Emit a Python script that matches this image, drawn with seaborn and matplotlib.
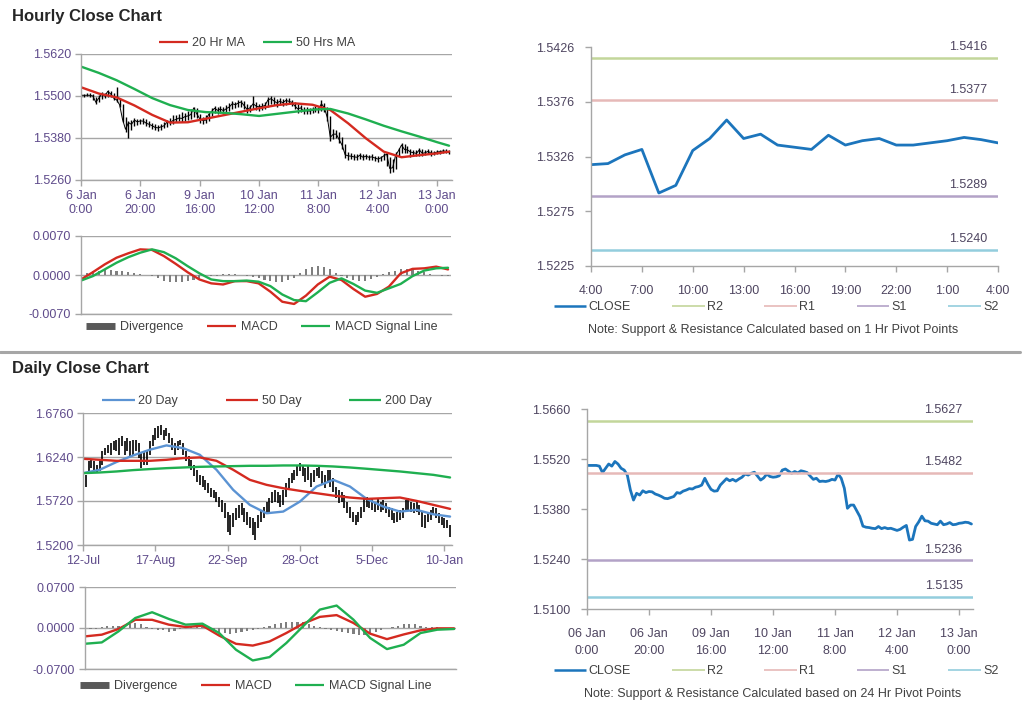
import numpy as np
import matplotlib
matplotlib.use("Agg")
import matplotlib.pyplot as plt
import seaborn as sns
from matplotlib.lines import Line2D
from matplotlib.ticker import FuncFormatter

sns.set_style("white")
plt.rcParams["font.family"] = ["Liberation Sans", "DejaVu Sans"]

# ------------------------------------------------------------------
# data
# ------------------------------------------------------------------
# hourly closes, 6 Jan 0:00 -> 13 Jan ~4:00 (trading hours)
hourly_close = [
    1.5502, 1.5502, 1.5502, 1.5502, 1.5500, 1.5482, 1.5494, 1.5506, 1.5500, 1.5513,
    1.5506, 1.5494, 1.5489, 1.5475, 1.5433, 1.5405, 1.5424, 1.5419, 1.5431, 1.5426,
    1.5429, 1.5428, 1.5422, 1.5419, 1.5415, 1.5410, 1.5409, 1.5412, 1.5415, 1.5426,
    1.5424, 1.5430, 1.5433, 1.5437, 1.5436, 1.5441, 1.5443, 1.5447, 1.5466, 1.5449,
    1.5435, 1.5430, 1.5431, 1.5447, 1.5456, 1.5465, 1.5459, 1.5463, 1.5458, 1.5464,
    1.5469, 1.5478, 1.5475, 1.5480, 1.5483, 1.5472, 1.5461, 1.5467, 1.5478, 1.5471,
    1.5469, 1.5470, 1.5473, 1.5489, 1.5492, 1.5486, 1.5480, 1.5485, 1.5481, 1.5487,
    1.5485, 1.5482, 1.5472, 1.5463, 1.5466, 1.5457, 1.5458, 1.5457, 1.5459, 1.5463,
    1.5461, 1.5478, 1.5466, 1.5438, 1.5382, 1.5391, 1.5391, 1.5375, 1.5359, 1.5332,
    1.5329, 1.5328, 1.5326, 1.5325, 1.5331, 1.5325, 1.5328, 1.5325, 1.5326, 1.5323,
    1.5320, 1.5323, 1.5329, 1.5334, 1.5293, 1.5295, 1.5331, 1.5344, 1.5360, 1.5347,
    1.5346, 1.5340, 1.5338, 1.5336, 1.5346, 1.5336, 1.5338, 1.5342, 1.5336, 1.5337,
    1.5340, 1.5341, 1.5343, 1.5342, 1.5338,
]
hourly_high = [
    1.5507, 1.5506, 1.5508, 1.5510, 1.5505, 1.5496, 1.5503, 1.5512, 1.5510, 1.5518,
    1.5515, 1.5508, 1.5526, 1.5492, 1.5478, 1.5440, 1.5430, 1.5432, 1.5436, 1.5434,
    1.5435, 1.5436, 1.5433, 1.5428, 1.5424, 1.5419, 1.5416, 1.5420, 1.5426, 1.5432,
    1.5437, 1.5446, 1.5447, 1.5450, 1.5455, 1.5452, 1.5458, 1.5462, 1.5470, 1.5466,
    1.5450, 1.5441, 1.5445, 1.5452, 1.5466, 1.5472, 1.5470, 1.5471, 1.5469, 1.5474,
    1.5480, 1.5486, 1.5483, 1.5488, 1.5490, 1.5486, 1.5476, 1.5474, 1.5500, 1.5484,
    1.5478, 1.5480, 1.5482, 1.5496, 1.5500, 1.5497, 1.5492, 1.5494, 1.5492, 1.5495,
    1.5493, 1.5490, 1.5484, 1.5476, 1.5474, 1.5470, 1.5468, 1.5466, 1.5469, 1.5472,
    1.5470, 1.5489, 1.5480, 1.5470, 1.5442, 1.5405, 1.5402, 1.5396, 1.5382, 1.5362,
    1.5340, 1.5336, 1.5334, 1.5333, 1.5337, 1.5334, 1.5335, 1.5332, 1.5333, 1.5330,
    1.5328, 1.5330, 1.5336, 1.5340, 1.5326, 1.5320, 1.5340, 1.5352, 1.5366, 1.5362,
    1.5356, 1.5350, 1.5347, 1.5345, 1.5352, 1.5348, 1.5346, 1.5348, 1.5345, 1.5344,
    1.5346, 1.5347, 1.5348, 1.5348, 1.5345,
]
hourly_low = [
    1.5497, 1.5498, 1.5499, 1.5498, 1.5488, 1.5478, 1.5484, 1.5492, 1.5495, 1.5498,
    1.5496, 1.5489, 1.5484, 1.5468, 1.5425, 1.5396, 1.5380, 1.5402, 1.5414, 1.5418,
    1.5420, 1.5421, 1.5415, 1.5412, 1.5406, 1.5402, 1.5401, 1.5404, 1.5409, 1.5412,
    1.5418, 1.5421, 1.5425, 1.5428, 1.5427, 1.5430, 1.5432, 1.5435, 1.5440, 1.5436,
    1.5424, 1.5421, 1.5423, 1.5429, 1.5442, 1.5452, 1.5450, 1.5452, 1.5449, 1.5453,
    1.5458, 1.5462, 1.5465, 1.5468, 1.5470, 1.5462, 1.5452, 1.5455, 1.5462, 1.5460,
    1.5458, 1.5459, 1.5462, 1.5468, 1.5478, 1.5474, 1.5470, 1.5473, 1.5471, 1.5474,
    1.5476, 1.5472, 1.5462, 1.5452, 1.5455, 1.5450, 1.5450, 1.5449, 1.5451, 1.5453,
    1.5452, 1.5458, 1.5455, 1.5430, 1.5372, 1.5376, 1.5380, 1.5366, 1.5348, 1.5322,
    1.5318, 1.5320, 1.5318, 1.5317, 1.5320, 1.5318, 1.5320, 1.5317, 1.5318, 1.5315,
    1.5312, 1.5314, 1.5318, 1.5300, 1.5280, 1.5283, 1.5292, 1.5328, 1.5338, 1.5338,
    1.5336, 1.5325, 1.5330, 1.5328, 1.5330, 1.5328, 1.5331, 1.5334, 1.5330, 1.5331,
    1.5333, 1.5334, 1.5336, 1.5336, 1.5333,
]
hourly_tick_labels = ["6 Jan\n0:00", "6 Jan\n20:00", "9 Jan\n16:00", "10 Jan\n12:00",
                      "11 Jan\n8:00", "12 Jan\n4:00", "13 Jan\n0:00"]
hourly_tick_labels_br = ["06 Jan\n0:00", "06 Jan\n20:00", "09 Jan\n16:00", "10 Jan\n12:00",
                         "11 Jan\n8:00", "12 Jan\n4:00", "13 Jan\n0:00"]

ma_hours = [0, 6, 12, 18, 24, 30, 36, 42, 48, 54, 60, 66, 72, 78, 84, 90, 96, 102, 108, 114, 120, 124]
hourly_ma20 = [1.5525, 1.5507, 1.5496, 1.5473, 1.5446, 1.5424, 1.5425, 1.5435, 1.5445, 1.5455, 1.5465,
               1.5474, 1.5479, 1.5475, 1.5460, 1.5422, 1.5379, 1.5341, 1.5325, 1.5331, 1.5336, 1.5341]
hourly_ma50 = [1.5584, 1.5566, 1.5545, 1.5520, 1.5494, 1.5474, 1.5460, 1.5454, 1.5452, 1.5448, 1.5443,
               1.5449, 1.5455, 1.5461, 1.5463, 1.5450, 1.5433, 1.5415, 1.5399, 1.5384, 1.5368, 1.5358]

macd_hours = [0, 4, 8, 12, 16, 20, 24, 28, 32, 36, 40, 44, 48, 52, 56, 60,
              64, 68, 72, 76, 80, 84, 88, 92, 96, 100, 104, 108, 112, 116, 120, 124]
hourly_macd = [-0.0008, 0.0005, 0.0019, 0.0031, 0.0039, 0.0046, 0.0045, 0.0034, 0.0020, 0.0005,
               -0.0008, -0.0015, -0.0017, -0.0011, -0.0011, -0.0015, -0.0030, -0.0048, -0.0052, -0.0037,
               -0.0017, -0.0003, -0.0009, -0.0025, -0.0039, -0.0034, -0.0021, 0.0003, 0.0011, 0.0012,
               0.0015, 0.0010]
hourly_signal = [-0.0010, -0.0002, 0.0010, 0.0022, 0.0032, 0.0040, 0.0046, 0.0041, 0.0030, 0.0016,
                 0.0003, -0.0008, -0.0011, -0.0011, -0.0010, -0.0012, -0.0020, -0.0035, -0.0045, -0.0047,
                 -0.0031, -0.0014, -0.0006, -0.0016, -0.0028, -0.0032, -0.0024, -0.0016, -0.0002, 0.0008,
                 0.0012, 0.0013]
# divergence, every second hour
hourly_divergence = [
    0.0002, 0.0004, 0.0007, 0.0008, 0.0009, 0.0009, 0.0008, 0.0007, 0.0006, 0.0004,
    0.0002, 0.0000, -0.0002, -0.0006, -0.0010, -0.0012, -0.0013, -0.0012, -0.0011, -0.0009,
    -0.0007, -0.0004, -0.0002, -0.0001, 0.0001, 0.0002, 0.0001, 0.0000, -0.0001, -0.0003,
    -0.0006, -0.0009, -0.0011, -0.0013, -0.0012, -0.0009, -0.0005, 0.0004, 0.0010, 0.0014,
    0.0016, 0.0015, 0.0011, 0.0004, -0.0002, -0.0006, -0.0009, -0.0011, -0.0010, -0.0007,
    -0.0003, 0.0002, 0.0005, 0.0008, 0.0010, 0.0011, 0.0010, 0.0008, 0.0005, 0.0002,
    0.0000, -0.0001, -0.0001,
]

# last 25 hours (4:00 -> 4:00) with 1 Hr pivot levels
last_day_labels = ["4:00", "7:00", "10:00", "13:00", "16:00", "19:00", "22:00", "1:00", "4:00"]
last_day_close = [1.5318, 1.5319, 1.5327, 1.5332, 1.5292, 1.5299, 1.5331, 1.5342, 1.5359, 1.5342,
                  1.5346, 1.5336, 1.5334, 1.5332, 1.5345, 1.5336, 1.5340, 1.5342, 1.5336, 1.5336,
                  1.5338, 1.5340, 1.5343, 1.5341, 1.5338]
hourly_levels = [1.5416, 1.5377, 1.5289, 1.5240]   # R2, R1, S1, S2
daily_levels = [1.5627, 1.5482, 1.5236, 1.5135]
level_names = ["R2", "R1", "S1", "S2"]
last_day_ticks = ["1.5225", "1.5275", "1.5326", "1.5376", "1.5426"]

# daily bars 12-Jul -> 12-Jan
daily_tick_labels = ["12-Jul", "17-Aug", "22-Sep", "28-Oct", "5-Dec", "10-Jan"]
daily_high = [
    1.5931, 1.6029, 1.6187, 1.6207, 1.6187, 1.6148, 1.6187, 1.6306, 1.6345, 1.6385,
    1.6405, 1.6424, 1.6444, 1.6464, 1.6484, 1.6424, 1.6464, 1.6424, 1.6444, 1.6444,
    1.6405, 1.6286, 1.6306, 1.6326, 1.6424, 1.6503, 1.6582, 1.6602, 1.6614, 1.6563,
    1.6582, 1.6523, 1.6464, 1.6405, 1.6424, 1.6444, 1.6405, 1.6306, 1.6247, 1.6207,
    1.6148, 1.6089, 1.6029, 1.6010, 1.5970, 1.5931, 1.5871, 1.5852, 1.5832, 1.5773,
    1.5733, 1.5694, 1.5595, 1.5556, 1.5575, 1.5635, 1.5674, 1.5694, 1.5635, 1.5595,
    1.5536, 1.5516, 1.5477, 1.5556, 1.5615, 1.5654, 1.5713, 1.5753, 1.5832, 1.5852,
    1.5832, 1.5792, 1.5852, 1.5931, 1.5990, 1.6049, 1.6089, 1.6148, 1.6168, 1.6148,
    1.6108, 1.6128, 1.6049, 1.6089, 1.6108, 1.6128, 1.6069, 1.6029, 1.6089, 1.6089,
    1.5990, 1.5891, 1.5852, 1.5832, 1.5792, 1.5713, 1.5654, 1.5595, 1.5556, 1.5595,
    1.5654, 1.5753, 1.5773, 1.5753, 1.5753, 1.5713, 1.5753, 1.5713, 1.5733, 1.5694,
    1.5654, 1.5635, 1.5575, 1.5595, 1.5615, 1.5635, 1.5733, 1.5753, 1.5713, 1.5694,
    1.5713, 1.5674, 1.5595, 1.5556, 1.5595, 1.5615, 1.5654, 1.5635, 1.5575, 1.5536,
    1.5516, 1.5496, 1.5437,
]
daily_low = [
    1.5773, 1.5891, 1.6069, 1.6108, 1.6089, 1.6049, 1.6069, 1.6148, 1.6266, 1.6286,
    1.6266, 1.6326, 1.6306, 1.6266, 1.6365, 1.6266, 1.6306, 1.6247, 1.6266, 1.6306,
    1.6227, 1.6108, 1.6148, 1.6148, 1.6266, 1.6365, 1.6444, 1.6464, 1.6503, 1.6444,
    1.6484, 1.6405, 1.6326, 1.6266, 1.6326, 1.6385, 1.6266, 1.6187, 1.6128, 1.6089,
    1.6010, 1.5950, 1.5911, 1.5891, 1.5852, 1.5812, 1.5773, 1.5753, 1.5713, 1.5654,
    1.5595, 1.5516, 1.5358, 1.5319, 1.5417, 1.5496, 1.5516, 1.5556, 1.5477, 1.5437,
    1.5398, 1.5319, 1.5259, 1.5398, 1.5477, 1.5516, 1.5575, 1.5595, 1.5694, 1.5713,
    1.5694, 1.5654, 1.5674, 1.5773, 1.5871, 1.5931, 1.5970, 1.6010, 1.6069, 1.6010,
    1.5950, 1.5970, 1.5891, 1.5950, 1.6010, 1.5990, 1.5911, 1.5871, 1.5931, 1.5891,
    1.5832, 1.5753, 1.5694, 1.5713, 1.5635, 1.5575, 1.5516, 1.5477, 1.5437, 1.5477,
    1.5516, 1.5595, 1.5654, 1.5635, 1.5615, 1.5595, 1.5615, 1.5595, 1.5615, 1.5575,
    1.5536, 1.5496, 1.5457, 1.5477, 1.5496, 1.5516, 1.5595, 1.5615, 1.5595, 1.5575,
    1.5595, 1.5556, 1.5417, 1.5398, 1.5477, 1.5496, 1.5556, 1.5516, 1.5457, 1.5437,
    1.5398, 1.5398, 1.5299,
]
ma_days = [0, 6, 12, 18, 24, 30, 36, 42, 48, 54, 60, 66, 72, 78, 84, 90, 96, 102, 108, 114, 120, 126, 132]
daily_ma20 = [1.6049, 1.6089, 1.6180, 1.6258, 1.6326, 1.6377, 1.6345, 1.6266, 1.6089, 1.5852, 1.5674, 1.5575,
              1.5595, 1.5713, 1.5891, 1.5970, 1.5891, 1.5745, 1.5654, 1.5595, 1.5615, 1.5563, 1.5536]
daily_ma50 = [1.6219, 1.6207, 1.6195, 1.6195, 1.6195, 1.6207, 1.6227, 1.6235, 1.6195, 1.6089, 1.5970, 1.5911,
              1.5871, 1.5840, 1.5812, 1.5784, 1.5761, 1.5745, 1.5753, 1.5761, 1.5721, 1.5674, 1.5627]
daily_ma200 = [1.6049, 1.6057, 1.6069, 1.6085, 1.6097, 1.6108, 1.6116, 1.6124, 1.6128, 1.6132, 1.6136, 1.6136,
               1.6140, 1.6140, 1.6136, 1.6128, 1.6116, 1.6101, 1.6085, 1.6069, 1.6049, 1.6029, 1.5998]
daily_macd = [-0.0143, -0.0114, -0.0017, 0.0140, 0.0140, 0.0057, 0.0017, 0.0040, -0.0130, -0.0270, -0.0300,
              -0.0230, -0.0086, 0.0074, 0.0190, 0.0220, 0.0086, -0.0097, -0.0190, -0.0110, -0.0040, -0.0006,
              -0.0006]
daily_signal = [-0.0269, -0.0246, -0.0057, 0.0171, 0.0269, 0.0154, 0.0057, 0.0074, -0.0086, -0.0371, -0.0554,
                -0.0497, -0.0257, 0.0029, 0.0314, 0.0383, 0.0143, -0.0171, -0.0360, -0.0286, -0.0086, -0.0029,
                -0.0017]
# divergence, every second day
daily_divergence = [
    -0.002, -0.002, -0.002, 0.001, 0.003, 0.004, 0.004, 0.005, 0.007, 0.009,
    0.006, 0.002, -0.002, -0.003, -0.004, -0.006, -0.005, -0.002, 0.002, 0.004,
    0.004, 0.002, -0.001, -0.004, -0.007, -0.009, -0.010, -0.009, -0.007, -0.005,
    -0.003, -0.001, 0.001, 0.003, 0.006, 0.009, 0.010, 0.011, 0.011, 0.010,
    0.007, 0.004, 0.001, -0.001, -0.003, -0.005, -0.007, -0.009, -0.011, -0.012,
    -0.012, -0.010, -0.006, -0.003, 0.000, 0.002, 0.004, 0.006, 0.007, 0.006,
    0.004, 0.002, 0.001, 0.001, 0.000, 0.000, 0.000,
]

# ------------------------------------------------------------------
# colours / helpers
# ------------------------------------------------------------------
RED = "#D42A20"
GREEN = "#1FAF50"
BLUE = "#5B93D3"
CLOSE_BLUE = "#1C75BC"
DIV_GRAY = "#7F7F7F"
LEVEL_COLORS = ["#C3D69B", "#E6B9B8", "#B3A2C7", "#93CDDD"]
AXIS = "#A6A6A6"
TICK_TXT = "#5F4B8B"
RIGHT_TXT = "#4E4560"
TEXT = "#404040"
FS = 9

W, H = 1024, 706


def box(x0, y0, x1, y1):
    # pixel box (top-left origin) -> figure fraction
    return [x0 / W, 1 - y1 / H, (x1 - x0) / W, (y1 - y0) / H]


def style(ax, label_color=TICK_TXT, grid=False):
    sns.despine(ax=ax)
    for s in ("left", "bottom"):
        ax.spines[s].set_color(AXIS)
        ax.spines[s].set_linewidth(1.0)
    ax.tick_params(axis="both", colors=AXIS, labelcolor=label_color, labelsize=FS,
                   length=4, width=1, direction="out", bottom=True, left=True, pad=3)
    ax.yaxis.set_major_formatter(FuncFormatter(lambda v, _: f"{v:.4f}"))
    if grid:
        ax.yaxis.grid(True, color=AXIS, lw=1)
        ax.set_axisbelow(True)
    ax.set_xlabel("")
    ax.set_ylabel("")


def line_handle(color, lw=1.6):
    return Line2D([0], [0], color=color, lw=lw, solid_capstyle="butt")


fig = plt.figure(figsize=(10.24, 7.06), dpi=100)

fig.text(12 / W, 1 - 16 / H, "Hourly Close Chart", fontsize=12, fontweight="bold",
         color="#262626", va="center", ha="left")
fig.text(12 / W, 1 - 369 / H, "Daily Close Chart", fontsize=12, fontweight="bold",
         color="#262626", va="center", ha="left")
fig.add_artist(Line2D([0, 1020 / W], [1 - 352 / H] * 2, color="#A6A6A6", lw=2.2))

# ---------------- hourly price ----------------
hours = np.arange(len(hourly_close))
ax = fig.add_axes(box(81, 54, 452, 180))
ax.vlines(hours, hourly_low, hourly_high, color="black", lw=1.0)
ax.plot(hours, hourly_close, color="black", lw=0.7)
sns.lineplot(x=ma_hours, y=hourly_ma20, ax=ax, color=RED, lw=1.7)
sns.lineplot(x=ma_hours, y=hourly_ma50, ax=ax, color=GREEN, lw=1.7)
ax.set_xlim(0, 125)
ax.set_ylim(1.5260, 1.5620)
ax.set_yticks(np.linspace(1.5260, 1.5620, 4))
ax.set_xticks(np.arange(len(hourly_tick_labels)) * 20, hourly_tick_labels)
style(ax, grid=True)
fig.legend([line_handle(RED), line_handle(GREEN)], ["20 Hr MA", "50 Hrs MA"],
           loc="center", bbox_to_anchor=(257 / W, 1 - 43 / H), ncol=2, frameon=False,
           fontsize=FS, handlelength=2.3, handletextpad=0.3, columnspacing=1.5, labelcolor=TEXT)

# ---------------- hourly MACD ----------------
ax = fig.add_axes(box(81, 236, 451, 314))
ax.bar(hours[::2], hourly_divergence, width=0.7, color=DIV_GRAY, lw=0)
sns.lineplot(x=macd_hours, y=hourly_macd, ax=ax, color=RED, lw=1.7)
sns.lineplot(x=macd_hours, y=hourly_signal, ax=ax, color=GREEN, lw=1.7)
ax.set_xlim(0, 125)
ax.set_ylim(-0.0070, 0.0070)
ax.set_yticks([-0.0070, 0.0, 0.0070])
ax.set_xticks([])
style(ax, grid=True)
ax.tick_params(axis="x", bottom=False)
fig.legend([line_handle("#595959", 5), line_handle(RED), line_handle(GREEN)],
           ["Divergence", "MACD", "MACD Signal Line"],
           loc="center", bbox_to_anchor=(262 / W, 1 - 327 / H), ncol=3, frameon=False,
           fontsize=FS, handlelength=2.3, handletextpad=0.4, columnspacing=1.9, labelcolor=TEXT)


def level_chart(ax, x, close, levels, xmax):
    sns.lineplot(x=x, y=close, ax=ax, color=CLOSE_BLUE, lw=2)
    for v, c in zip(levels, LEVEL_COLORS):
        ax.axhline(v, color=c, lw=1.8)
        ax.annotate(f"{v:.4f}", xy=(0.973, v), xycoords=("axes fraction", "data"),
                    xytext=(0, 3.5), textcoords="offset points", ha="right", va="bottom",
                    fontsize=FS, color=RIGHT_TXT)
    ax.set_xlim(0, xmax)


def level_legend(center_y, note):
    handles = [line_handle(CLOSE_BLUE, 1.8)] + [line_handle(c, 1.2) for c in LEVEL_COLORS]
    fig.legend(handles, ["CLOSE"] + level_names, loc="center",
               bbox_to_anchor=(776 / W, 1 - center_y / H), ncol=5, frameon=False,
               fontsize=FS, handlelength=2.6, handletextpad=0.2, columnspacing=3.3, labelcolor=TEXT)
    fig.text(773 / W, 1 - (center_y + 23) / H, note, fontsize=FS, color=TEXT,
             ha="center", va="center")


# ---------------- last 25 hours with pivots ----------------
ax = fig.add_axes(box(591, 47, 998, 266))
level_chart(ax, np.arange(len(last_day_close)), last_day_close, hourly_levels, 24)
ax.set_ylim(1.5225, 1.5426)
ax.set_xticks(np.arange(len(last_day_labels)) * 3, last_day_labels)
style(ax, label_color=RIGHT_TXT)
ax.set_yticks(np.linspace(1.5225, 1.5426, len(last_day_ticks)), last_day_ticks)
ax.tick_params(axis="y", pad=8)
ax.tick_params(axis="x", pad=10)
level_legend(307, "Note: Support & Resistance Calculated based on 1 Hr Pivot Points")

# ---------------- daily price ----------------
days = np.arange(len(daily_high))
ax = fig.add_axes(box(83, 413, 452, 545))
ax.vlines(days, daily_low, daily_high, color="black", lw=1.2)
sns.lineplot(x=ma_days, y=daily_ma20, ax=ax, color=BLUE, lw=1.7)
sns.lineplot(x=ma_days, y=daily_ma50, ax=ax, color=RED, lw=1.7)
sns.lineplot(x=ma_days, y=daily_ma200, ax=ax, color=GREEN, lw=1.7)
ax.set_xlim(0, 132.7)
ax.set_ylim(1.5200, 1.6760)
ax.set_yticks(np.linspace(1.5200, 1.6760, 4))
ax.set_xticks(np.arange(len(daily_tick_labels)) * 26, daily_tick_labels)
style(ax, grid=True)
fig.legend([line_handle(BLUE), line_handle(RED), line_handle(GREEN)],
           ["20 Day", "50 Day", "200 Day"],
           loc="center", bbox_to_anchor=(267 / W, 1 - 401 / H), ncol=3, frameon=False,
           fontsize=FS, handlelength=2.6, handletextpad=0.3, columnspacing=3.8, labelcolor=TEXT)

# ---------------- daily MACD ----------------
ax = fig.add_axes(box(85, 587, 456, 669))
ax.bar(days[::2], daily_divergence, width=0.8, color=DIV_GRAY, lw=0)
sns.lineplot(x=ma_days, y=daily_macd, ax=ax, color=RED, lw=1.7)
sns.lineplot(x=ma_days, y=daily_signal, ax=ax, color=GREEN, lw=1.7)
ax.set_xlim(0, 132.7)
ax.set_ylim(-0.0700, 0.0700)
ax.set_yticks([-0.0700, 0.0, 0.0700])
ax.set_xticks([])
style(ax, grid=True)
ax.tick_params(axis="x", bottom=False)
fig.legend([line_handle("#595959", 5), line_handle(RED), line_handle(GREEN)],
           ["Divergence", "MACD", "MACD Signal Line"],
           loc="center", bbox_to_anchor=(256 / W, 1 - 686 / H), ncol=3, frameon=False,
           fontsize=FS, handlelength=2.3, handletextpad=0.4, columnspacing=1.9, labelcolor=TEXT)

# ---------------- hourly close with 24 Hr pivots ----------------
ax = fig.add_axes(box(587, 409, 973, 609))
level_chart(ax, hours, hourly_close, daily_levels, 124.5)
ax.set_ylim(1.5100, 1.5660)
ax.set_yticks(np.linspace(1.5100, 1.5660, 5))
ax.set_xticks(np.arange(len(hourly_tick_labels_br)) * 20, hourly_tick_labels_br)
style(ax, label_color=RIGHT_TXT)
ax.tick_params(axis="y", pad=8)
ax.tick_params(axis="x", pad=10)
for t in ax.get_xticklabels():
    t.set_linespacing(1.5)
level_legend(671, "Note: Support & Resistance Calculated based on 24 Hr Pivot Points")

fig.savefig("out.png", dpi=100)
